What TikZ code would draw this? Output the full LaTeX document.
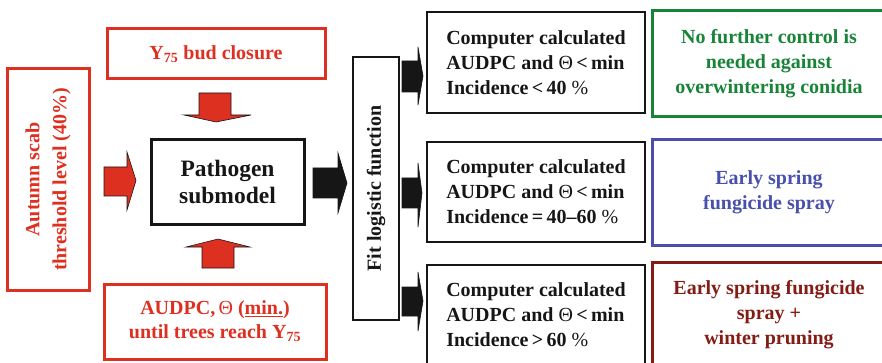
\documentclass[tikz,border=0pt]{standalone}
\usepackage{fontspec}
\setmainfont{Liberation Serif}
\definecolor{cred}{RGB}{222,48,32}
\definecolor{cgreen}{RGB}{24,132,56}
\definecolor{cblue}{RGB}{72,80,172}
\definecolor{cdark}{RGB}{132,28,22}
\definecolor{cblk}{RGB}{22,22,22}
\newcommand{\thet}{{\mdseries Θ}}
\newcommand{\pct}{{\mdseries\%}}
\begin{document}
\begin{tikzpicture}[x=1pt,y=-1pt,
  box/.style={draw,rectangle,inner sep=0pt,align=center,font=\bfseries\fontsize{20}{25}\selectfont},
  redbox/.style={box,draw=cred,text=cred,line width=3pt},
  blkbox/.style={box,draw=cblk,text=cblk,line width=1.3pt},
  compbox/.style={blkbox,minimum width=218,align=left},
  redarrow/.style={fill=cred,draw=cblk,line width=0.6pt,line join=miter},
  blkarrow/.style={fill=cblk,draw=cblk,line width=0.6pt,line join=miter}]
\useasboundingbox (0,0) rectangle (882,363);
\clip (0,0) rectangle (882,363);
% left column
\node[redbox,rotate=90,minimum width=221,minimum height=82,font=\bfseries\fontsize{20}{27}\selectfont] (autumn) at (48,179.5) {Autumn scab\\threshold level (40\%)};
\node[redbox,minimum width=218,minimum height=50] (y75) at (216,54) {Y\textsubscript{75} bud closure};
\node[box,draw=cblk,text=cblk,line width=3pt,minimum width=153,minimum height=84,font=\bfseries\fontsize{23.5}{27}\selectfont] (patho) at (227.5,182) {Pathogen\\submodel};
\node[redbox,minimum width=222,minimum height=75,font=\bfseries\fontsize{20}{24}\selectfont] (audpc) at (215,321.5) {AUDPC,\,\thet{} (\underline{min.})\\until trees reach Y\textsubscript{75}};
\node[blkbox,rotate=90,minimum width=263,minimum height=46] (fit) at (376,188.5) {Fit logistic function};
% computer boxes
\node[compbox,minimum height=101] (c1) at (536,62.5) {Computer calculated\\AUDPC and \thet\,<\,min\\Incidence\,<\,40 \pct};
\node[compbox,minimum height=100] (c2) at (536,192) {Computer calculated\\AUDPC and \thet\,<\,min\\Incidence\,=\,40--60 \pct};
\node[compbox,minimum height=100] (c3) at (536,315) {Computer calculated\\AUDPC and \thet\,<\,min\\Incidence\,>\,60 \pct};
% outcome boxes
\node[box,draw=cgreen,text=cgreen,line width=3pt,minimum width=234,minimum height=106] (o1) at (769,64) {No further control is\\needed against\\overwintering conidia};
\node[box,draw=cblue,text=cblue,line width=3pt,minimum width=234,minimum height=105] (o2) at (769,192.5) {Early spring\\fungicide spray};
\node[box,draw=cdark,text=cdark,line width=3pt,minimum width=234,minimum height=106] (o3) at (769,315) {Early spring fungicide\\spray +\\winter pruning};
% block arrows
\draw[redarrow] (104,167) -- (127,167) -- (127,152) -- (136,180.5) -- (127,210) -- (127,196) -- (104,196) -- cycle;
\draw[redarrow] (199,93) -- (231,93) -- (231,115) -- (251,115) -- (216,122) -- (184,115) -- (199,115) -- cycle;
\draw[redarrow] (202,268) -- (234,268) -- (234,247) -- (250,247) -- (218,239) -- (186,247) -- (202,247) -- cycle;
\draw[blkarrow] (313,168) -- (338,168) -- (338,153) -- (347,183) -- (338,213) -- (338,198) -- (313,198) -- cycle;
\draw[blkarrow] (402,61) -- (418,61) -- (418,47) -- (423,76) -- (418,105) -- (418,92) -- (402,92) -- cycle;
\draw[blkarrow] (402,178) -- (418,178) -- (418,163) -- (422,193) -- (418,227) -- (418,208) -- (402,208) -- cycle;
\draw[blkarrow] (402,287) -- (418,287) -- (418,272) -- (423,301) -- (418,331) -- (418,316) -- (402,316) -- cycle;
\end{tikzpicture}
\end{document}
